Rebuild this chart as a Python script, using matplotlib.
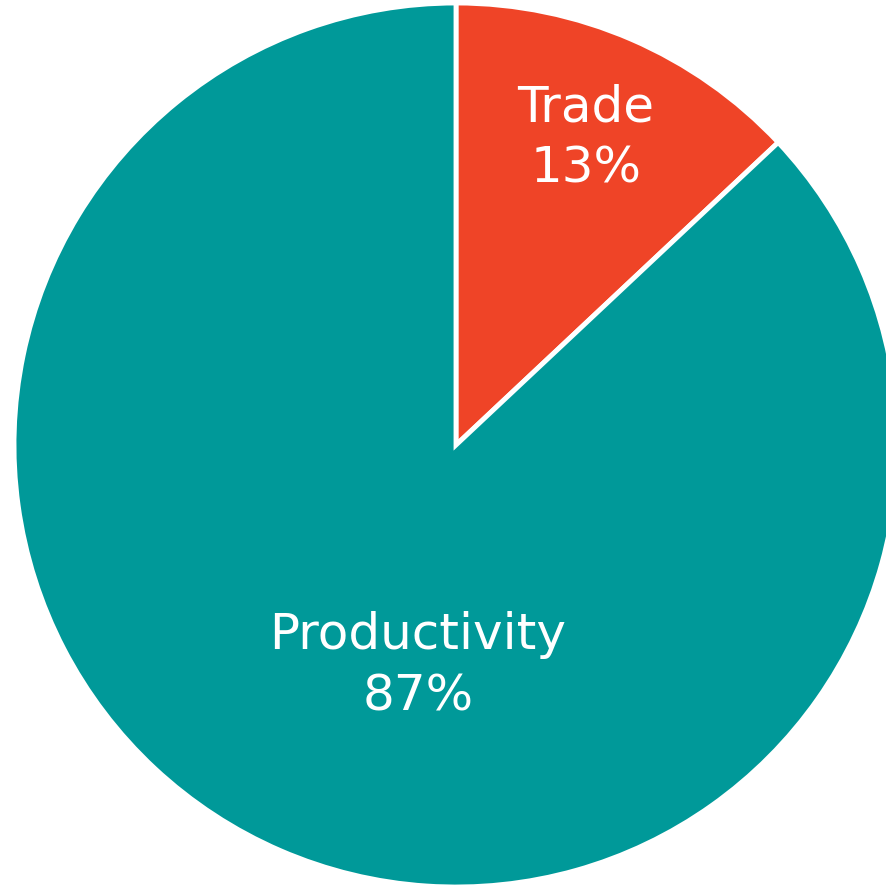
import matplotlib
matplotlib.use("Agg")
import matplotlib.pyplot as plt

labels = ["Trade", "Productivity"]
shares = [13, 87]
colors = ["#EF4427", "#009999"]
# label block centres, in units of the pie radius
label_xy = [(0.294, 0.697), (-0.086, -0.498)]

fig = plt.figure(figsize=(8.87, 8.87), dpi=100)
ax = fig.add_axes([0, 0, 1, 1])

wedges, _ = ax.pie(shares, colors=colors, startangle=90, counterclock=False,
                   radius=1.0, wedgeprops=dict(edgecolor="white", linewidth=3.5))

for lab, val, (x, y) in zip(labels, shares, label_xy):
    ax.text(x, y, f"{lab}\n{val}%", ha="center", va="center", color="white",
            fontsize=36, fontfamily="DejaVu Sans", linespacing=1.35)

ax.set_aspect("equal")
ax.set_xlim(-456 / 442, (887 - 456) / 442)
ax.set_ylim(-(887 - 446) / 442, 446 / 442)
ax.axis("off")

fig.savefig("out.png", dpi=100)
